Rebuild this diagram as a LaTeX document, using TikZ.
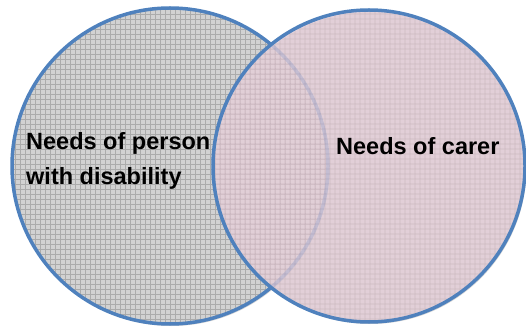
\documentclass[tikz,border=0pt]{standalone}
\usepackage{fontspec}
\setmainfont{Liberation Sans}
\usetikzlibrary{patterns}
\pgfdeclarepatternformonly{coarsegrid}{\pgfqpoint{-1pt}{-1pt}}{\pgfqpoint{6pt}{6pt}}{\pgfqpoint{5pt}{5pt}}{%
  \pgfsetlinewidth{0.9pt}%
  \pgfpathmoveto{\pgfqpoint{0pt}{0pt}}\pgfpathlineto{\pgfqpoint{5pt}{0pt}}%
  \pgfpathmoveto{\pgfqpoint{0pt}{0pt}}\pgfpathlineto{\pgfqpoint{0pt}{5pt}}%
  \pgfusepath{stroke}}
\definecolor{edgeblue}{HTML}{4F81BD}
\definecolor{leftfill}{HTML}{D2D2D2}
\definecolor{leftgrid}{HTML}{ABABAB}
\definecolor{rightfill}{HTML}{E6CFD9}
\definecolor{rightgrid}{HTML}{CDB3BE}
\tikzset{
  circshadow/.style={fill=gray!55, opacity=0.6},
  circedge/.style={draw=edgeblue, line width=3.5pt},
  lbl/.style={font=\fontsize{23.5}{35}\selectfont\bfseries, inner sep=0pt, anchor=base west}
}
\begin{document}
\begin{tikzpicture}[x=1pt,y=1pt]
\useasboundingbox (0,0) rectangle (526,329);
% shadows
\fill[circshadow] (171.5,161) circle (158);
\fill[circshadow] (370.5,161) circle (156);
% left circle
\fill[leftfill] (170,163) circle (158);
\fill[pattern=coarsegrid, pattern color=leftgrid] (170,163) circle (158);
\draw[circedge] (170,163) circle (158) coordinate (lc);
% right circle
\begin{scope}[opacity=0.78, transparency group]
\fill[rightfill] (369,163) circle (156);
\fill[pattern=coarsegrid, pattern color=rightgrid] (369,163) circle (156);
\end{scope}
\draw[circedge] (369,163) circle (156) coordinate (rc);
% labels
\node[lbl] (p1) at (26,179) {Needs of person};
\node[lbl] (p2) at (26,144) {with disability};
\node[lbl] (c1) at (336,174) {Needs of carer};
\end{tikzpicture}
\end{document}
